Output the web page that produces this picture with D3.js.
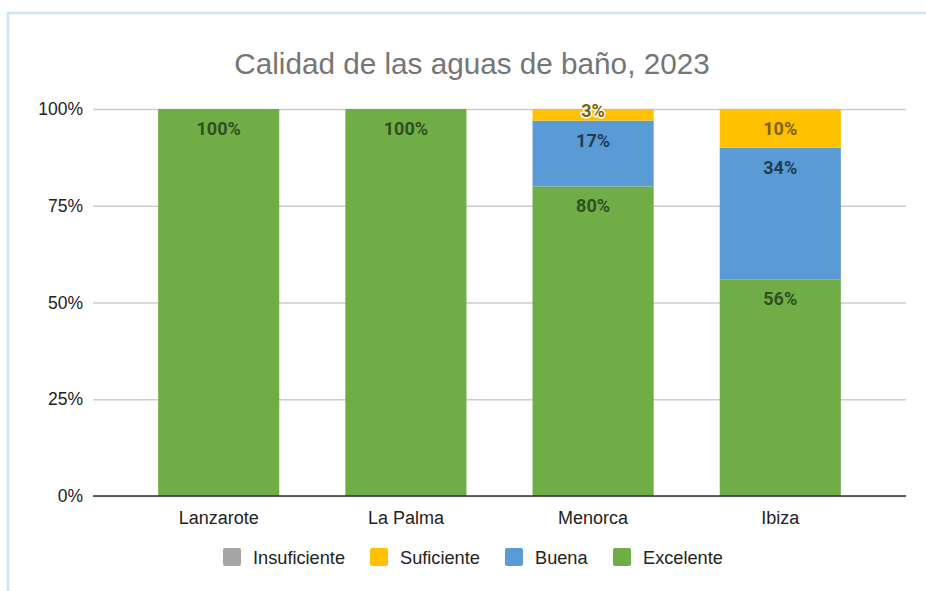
<!DOCTYPE html>
<html>
<head>
<meta charset="utf-8">
<script src="https://cdn.jsdelivr.net/npm/d3@7"></script>
<style>
  html, body { margin: 0; padding: 0; background: #fff; }
  svg { display: block; }
</style>
</head>
<body>
<svg id="chart" width="926" height="591"></svg>
<script>
// Bathing water quality by island, 2023 (share of sites, %)
const islands = ["Lanzarote", "La Palma", "Menorca", "Ibiza"];
const seriesNames = ["Insuficiente", "Suficiente", "Buena", "Excelente"];
const insuficiente = [0, 0, 0, 0];
const suficiente = [0, 0, 3, 10];
const buena = [0, 0, 17, 34];
const excelente = [100, 100, 80, 56];
const yTicks = [0, 25, 50, 75, 100];

const colors = {
  "Insuficiente": "#a5a5a5",
  "Suficiente": "#ffc000",
  "Buena": "#5b9bd5",
  "Excelente": "#70ad47"
};
const labelColors = {
  "Insuficiente": "#424242",
  "Suficiente": "#7f6000",
  "Buena": "#1f3d57",
  "Excelente": "#2f5020"
};

const rows = islands.map((name, i) => ({
  island: name,
  "Insuficiente": insuficiente[i],
  "Suficiente": suficiente[i],
  "Buena": buena[i],
  "Excelente": excelente[i]
}));

// stack from bottom: Excelente, Buena, Suficiente, Insuficiente
const stackOrder = ["Excelente", "Buena", "Suficiente", "Insuficiente"];
const stacked = d3.stack().keys(stackOrder)(rows);

const svg = d3.select("#chart");
const W = 926, H = 591;

// frame
svg.append("path")
  .attr("d", `M8,${H} L8,13 L${W},13`)
  .attr("fill", "none")
  .attr("stroke", "#cfe2f3")
  .attr("stroke-width", 2.5);

const plot = { left: 93, right: 906, top: 109, bottom: 496 };

const x = d3.scaleBand()
  .domain(islands)
  .range([plot.left, plot.right])
  .paddingInner(0.353)
  .paddingOuter(0.348);

const y = d3.scaleLinear()
  .domain([0, 100])
  .range([plot.bottom, plot.top]);

// title
svg.append("text")
  .attr("x", 472)
  .attr("y", 74)
  .attr("text-anchor", "middle")
  .attr("font-family", "Liberation Sans, Arial, sans-serif")
  .attr("font-size", 29.7)
  .attr("fill", "#757575")
  .text("Calidad de las aguas de baño, 2023");

// gridlines and y tick labels
const yAxis = d3.axisLeft(y)
  .tickValues(yTicks)
  .tickSize(-(plot.right - plot.left))
  .tickPadding(10)
  .tickFormat(d => d + "%");

const gAxis = svg.append("g")
  .attr("transform", `translate(${plot.left},0)`)
  .call(yAxis);
gAxis.select(".domain").remove();
gAxis.selectAll(".tick line").attr("stroke", "#cccccc").attr("stroke-width", 1.3);
gAxis.selectAll(".tick text")
  .attr("font-family", "Liberation Sans, Arial, sans-serif")
  .attr("font-size", 17.5)
  .attr("fill", "#222")
  .attr("x", -10);

// bars
const layer = svg.append("g").selectAll("g")
  .data(stacked)
  .join("g")
  .attr("fill", d => colors[d.key]);

layer.selectAll("rect")
  .data(d => d.map(v => ({ key: d.key, v })))
  .join("rect")
  .attr("x", d => x(d.v.data.island))
  .attr("width", x.bandwidth())
  .attr("y", d => y(d.v[1]))
  .attr("height", d => y(d.v[0]) - y(d.v[1]));

// baseline
svg.append("line")
  .attr("x1", plot.left).attr("x2", plot.right)
  .attr("y1", y(0)).attr("y2", y(0))
  .attr("stroke", "#333")
  .attr("stroke-width", 1.5);

// value labels
const labels = [];
stacked.forEach(s => s.forEach(v => {
  const val = v[1] - v[0];
  if (val > 0) labels.push({ key: s.key, v, val });
}));

svg.append("g").selectAll("text")
  .data(labels)
  .join("text")
  .attr("x", d => x(d.v.data.island) + x.bandwidth() / 2)
  .attr("y", d => {
    const top = y(d.v[1]);
    const h = y(d.v[0]) - top;
    return top + (h < 25 ? 1 : 19.5) + 6.5;
  })
  .attr("text-anchor", "middle")
  .attr("font-family", "Roboto, sans-serif")
  .attr("font-weight", "bold")
  .attr("font-size", 18)
  .attr("fill", d => labelColors[d.key])
  .attr("stroke", d => (y(d.v[0]) - y(d.v[1]) < 25) ? "#fff" : "none")
  .attr("stroke-width", 3)
  .attr("stroke-linejoin", "round")
  .attr("paint-order", "stroke")
  .text(d => d.val + "%");

// x labels
svg.append("g").selectAll("text")
  .data(islands)
  .join("text")
  .attr("x", d => x(d) + x.bandwidth() / 2)
  .attr("y", 524)
  .attr("text-anchor", "middle")
  .attr("font-family", "Liberation Sans, Arial, sans-serif")
  .attr("font-size", 18)
  .attr("fill", "#222")
  .text(d => d);

// legend
const legendX = [223, 370, 505, 613];
const leg = svg.append("g").selectAll("g")
  .data(seriesNames)
  .join("g")
  .attr("transform", (d, i) => `translate(${legendX[i]},548)`);
leg.append("rect")
  .attr("width", 18).attr("height", 18)
  .attr("rx", 2)
  .attr("fill", d => colors[d]);
leg.append("text")
  .attr("x", 30)
  .attr("y", 15.5)
  .attr("font-family", "Liberation Sans, Arial, sans-serif")
  .attr("font-size", 18.2)
  .attr("fill", "#222")
  .text(d => d);
</script>
</body>
</html>
